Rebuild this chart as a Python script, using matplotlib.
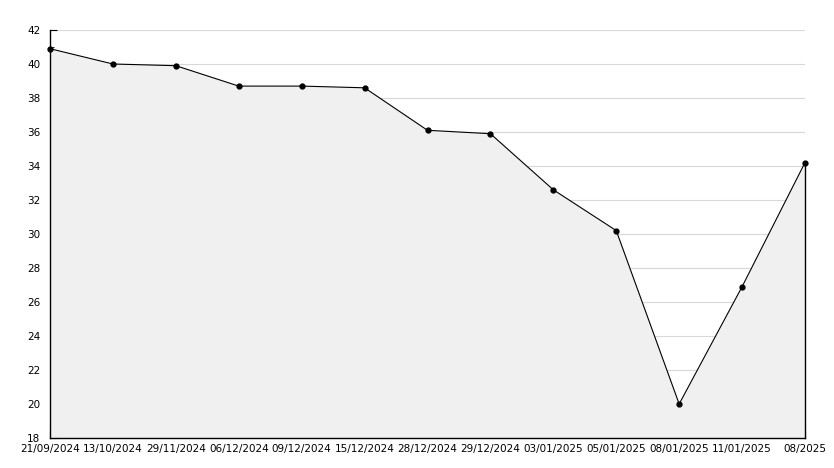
import matplotlib
matplotlib.use("Agg")
import matplotlib.pyplot as plt
from matplotlib.ticker import MultipleLocator

labels = ["21/09/2024", "13/10/2024", "29/11/2024", "06/12/2024", "09/12/2024",
          "15/12/2024", "28/12/2024", "29/12/2024", "03/01/2025", "05/01/2025",
          "08/01/2025", "11/01/2025", "08/2025"]
values = [40.9, 40.0, 39.9, 38.7, 38.7, 38.6, 36.1, 35.9, 32.6, 30.2, 20.0, 26.9, 34.2]

W, H = 834, 468
fig = plt.figure(figsize=(W / 100, H / 100), dpi=100)
ax = fig.add_axes([50 / W, 30 / H, (805 - 50) / W, (438 - 30) / H])

x = list(range(len(values)))
ymin, ymax = 18, 42
ax.fill_between(x, values, ymin, color="#f0f0f0", zorder=1, linewidth=0)
ax.plot([x[-1], x[-1]], [ymin, values[-1]], color="black", lw=1, zorder=2, clip_on=False)
ax.plot(x, values, color="black", lw=0.8, marker="o", markersize=3.5, zorder=3, clip_on=False)

ax.set_xlim(0, len(values) - 1)
ax.set_ylim(ymin, ymax)
ax.set_xticks(x)
ax.set_xticklabels(labels)
ax.yaxis.set_major_locator(MultipleLocator(2))
ax.yaxis.set_minor_locator(MultipleLocator(1))
ax.grid(axis="y", which="major", color="#d8d8d8", lw=0.8, zorder=0)
ax.set_axisbelow(True)

for s in ["top", "right"]:
    ax.spines[s].set_visible(False)
for s in ["left", "bottom"]:
    ax.spines[s].set_color("black")
    ax.spines[s].set_linewidth(1)

ax.tick_params(axis="y", which="major", direction="in", length=5, labelsize=7.5, pad=7)
ax.tick_params(axis="y", which="minor", direction="in", length=3)
ax.tick_params(axis="x", direction="in", length=5, labelsize=7.5, pad=4)
for t in ax.get_xticklabels() + ax.get_yticklabels():
    t.set_family("DejaVu Sans")

fig.savefig("out.png", dpi=100)
